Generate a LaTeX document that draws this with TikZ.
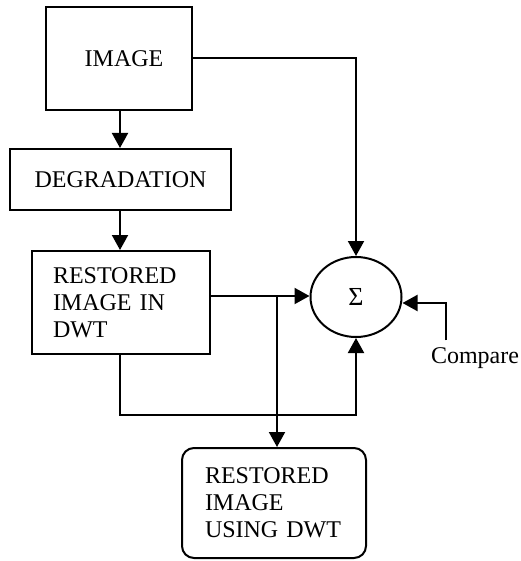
\documentclass[tikz,border=0pt]{standalone}
\usepackage{fontspec}
\setmainfont{Liberation Serif}
\usetikzlibrary{arrows.meta}
\usetikzlibrary{shapes.geometric}
\tikzset {
  flow path/.style = {
    draw = black,
    line width = 1pt
  },
  % path style with a filled tip at the end
  arr/.style = {
    flow path,
    -{Triangle[length=7.5pt,width=8pt]}
  },
  % path style with no arrows
  narr/.style = {
    flow path
  }
}
\tikzset {
  flow node/.style = {
    draw = black,
    line width = 1pt,
    font = \fontsize{12}{13.5}\selectfont
  },
  % plain processing step
  block/.style = {
    flow node,
    rectangle,
    align = center
  },
  % step with text set flush left
  lblock/.style = {
    flow node,
    rectangle,
    align = left,
    inner xsep = 10.5pt
  },
  % final result
  result/.style = {
    flow node,
    rectangle,
    rounded corners = 6pt,
    align = left,
    inner xsep = 11.5pt
  },
  % summing junction
  junction/.style = {
    flow node,
    ellipse,
    inner sep = 0,
    font = \fontsize{13}{14}\selectfont
  }
}

\begin{document}
\begin{tikzpicture}[x=0.5pt,y=-0.5pt]
    \useasboundingbox (0,0) rectangle (520,561);
    \node[block, minimum width=73pt, minimum height=51.5pt] (image) at (119,58.5) {\hspace{5pt}IMAGE};
    \node[block, minimum width=110.5pt, minimum height=30.5pt] (degr) at (120.5,179.5) {DEGRADATION};
    \node[lblock, text width=68pt, minimum height=51.5pt] (restored) at (121,302.5) {RESTORED\\IMAGE IN\\DWT};
    \node[junction, minimum width=45.5pt, minimum height=40pt] (sum) at (356,297) {Σ};
    \node[result, text width=69pt, minimum height=55pt] (output) at (274,503) {RESTORED\\IMAGE\\USING DWT};
    \node[font=\fontsize{12}{13.5}\selectfont] (compare) at (475,358) {Compare};
    \coordinate (split) at (277,296);
    \coordinate (low) at (120,415);
    \coordinate (cmp-in) at (446,303);

    \draw[arr] (image.south -| low) -- (degr.north -| low);
    \draw[arr] (degr.south -| low) -- (restored.north -| low);
    \draw[arr] (image.east) -| (sum.north);
    \draw[arr] (restored.east |- split) -- (sum.west |- split);
    \draw[arr] (split) -- (split |- output.north);
    \draw[arr] (restored.south -| low) -- (low) -| (sum.south);
    \draw[arr] (cmp-in |- compare.north) -- (cmp-in) -- (sum.east |- cmp-in);
\end{tikzpicture}
\end{document}
